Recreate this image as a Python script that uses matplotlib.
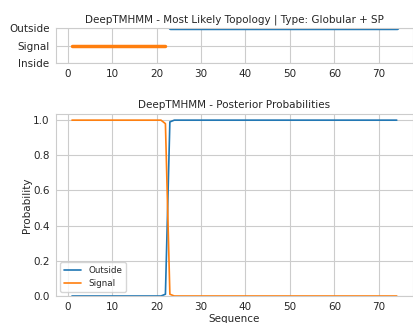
import matplotlib
matplotlib.use("Agg")
import matplotlib.pyplot as plt
import numpy as np
import seaborn as sns

sns.set_style("whitegrid")

# sequence positions and predicted topology
seq_len = 74
signal_end = 22
labels = ["Inside", "Signal", "Outside"]

pos = np.arange(1, seq_len + 1)

# posterior probabilities
outside_prob = [0.0] * 20 + [0.0, 0.01, 0.99, 1.0] + [1.0] * (seq_len - 24)
signal_prob = [1.0] * 20 + [1.0, 0.98, 0.01, 0.0] + [0.0] * (seq_len - 24)

fig = plt.figure(figsize=(4.13, 3.23), dpi=100)
ax1 = fig.add_axes([0.135, 0.805, 0.865, 0.108])
ax2 = fig.add_axes([0.135, 0.0836, 0.865, 0.5635])

# top: most likely topology
sig_x = pos[:signal_end]
out_x = pos[signal_end:]
ax1.plot(sig_x, [1] * len(sig_x), color="#ff7f0e", lw=2.5)
ax1.plot(out_x, [2] * len(out_x), color="#1f77b4", lw=2.5)
ax1.set_yticks([0, 1, 2])
ax1.set_yticklabels(labels)
ax1.set_ylim(0, 2)
ax1.set_xlim(pos[0] - 0.05 * (seq_len - 1), seq_len + 0.05 * (seq_len - 1))
ax1.set_title("DeepTMHMM - Most Likely Topology | Type: Globular + SP", fontsize=7.5, pad=4)
ax1.tick_params(labelsize=7.5, pad=1)

# bottom: posterior probabilities
ax2.plot(pos, outside_prob, color="#1f77b4", lw=1.2, label="Outside")
ax2.plot(pos, signal_prob, color="#ff7f0e", lw=1.2, label="Signal")
ax2.set_ylim(0, 1.035)
ax2.set_xlim(pos[0] - 0.05 * (seq_len - 1), seq_len + 0.05 * (seq_len - 1))
ax2.set_title("DeepTMHMM - Posterior Probabilities", fontsize=7.5, pad=4)
ax2.set_xlabel("Sequence", fontsize=7.5, labelpad=1)
ax2.set_ylabel("Probability", fontsize=7.5, labelpad=1)
ax2.tick_params(labelsize=7.5, pad=1)
ax2.legend(loc="lower left", fontsize=6.3)

fig.savefig("out.png", dpi=100)
